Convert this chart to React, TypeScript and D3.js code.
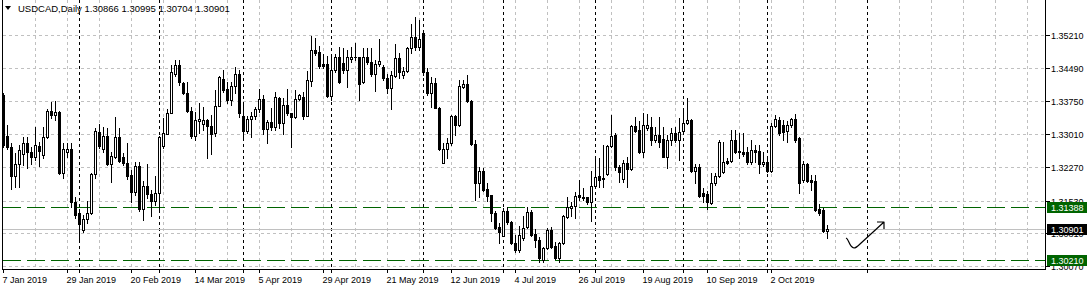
import React from "react";
import * as d3 from "d3";

// ---- Data (USDCAD daily) ----
const OPEN = [
  1.3388, 1.3297, 1.3272, 1.3209, 1.3234, 1.3256, 1.3282, 1.3262, 1.3251, 1.3275,
  1.3255, 1.3294, 1.3352, 1.3344, 1.3351, 1.3215, 1.3261, 1.3268, 1.3150, 1.3125,
  1.3088, 1.3112, 1.3125, 1.3212, 1.3305, 1.3267, 1.3298, 1.3234, 1.3251, 1.3294,
  1.3251, 1.3236, 1.3210, 1.3172, 1.3230, 1.3134, 1.3186, 1.3167, 1.3153, 1.3169,
  1.3275, 1.3301, 1.3347, 1.3434, 1.3455, 1.3414, 1.3392, 1.3352, 1.3297, 1.3331,
  1.3323, 1.3333, 1.3319, 1.3303, 1.3364, 1.3424, 1.3402, 1.3377, 1.3408, 1.3434,
  1.3341, 1.3307, 1.3334, 1.3341, 1.3356, 1.3379, 1.3312, 1.3328, 1.3316, 1.3382,
  1.3325, 1.3366, 1.3347, 1.3339, 1.3379, 1.3384, 1.3342, 1.3420, 1.3488, 1.3483,
  1.3457, 1.3457, 1.3386, 1.3444, 1.3473, 1.3459, 1.3444, 1.3468, 1.3473, 1.3473,
  1.3418, 1.3473, 1.3461, 1.3434, 1.3457, 1.3450, 1.3427, 1.3403, 1.3431, 1.3470,
  1.3433, 1.3442, 1.3492, 1.3518, 1.3496, 1.3526, 1.3439, 1.3392, 1.3414, 1.3360,
  1.3236, 1.3267, 1.3281, 1.3341, 1.3321, 1.3405, 1.3412, 1.3375, 1.3279, 1.3192,
  1.3220, 1.3179, 1.3166, 1.3125, 1.3095, 1.3075, 1.3131, 1.3105, 1.3058, 1.3043,
  1.3069, 1.3095, 1.3127, 1.3078, 1.3066, 1.3021, 1.3047, 1.3088, 1.3052, 1.3025,
  1.3058, 1.3116, 1.3136, 1.3141, 1.3166, 1.3162, 1.3161, 1.3150, 1.3186, 1.3208,
  1.3203, 1.3212, 1.3275, 1.3299, 1.3227, 1.3201, 1.3236, 1.3223, 1.3319, 1.3310,
  1.3262, 1.3314, 1.3318, 1.3287, 1.3299, 1.3291, 1.3251, 1.3287, 1.3303, 1.3287,
  1.3307, 1.3325, 1.3333, 1.3220, 1.3228, 1.3169, 1.3168, 1.3147, 1.3192, 1.3208,
  1.3217, 1.3241, 1.3241, 1.3288, 1.3264, 1.3262, 1.3262, 1.3239, 1.3266, 1.3264,
  1.3234, 1.3239, 1.3220, 1.3320, 1.3333, 1.3321, 1.3307, 1.3321, 1.3335, 1.3292,
  1.3199, 1.3235, 1.3199, 1.3197, 1.3134, 1.3132, 1.30866,
];
const HIGH = [
  1.3393, 1.3321, 1.3281, 1.3259, 1.3277, 1.3295, 1.3295, 1.3272, 1.3318, 1.3284,
  1.3316, 1.3357, 1.3373, 1.3375, 1.3352, 1.3281, 1.3281, 1.3281, 1.3162, 1.3135,
  1.3121, 1.3152, 1.3214, 1.3315, 1.3324, 1.3318, 1.3314, 1.3262, 1.3339, 1.3314,
  1.3259, 1.3281, 1.3221, 1.3240, 1.3240, 1.3197, 1.3235, 1.3177, 1.3208, 1.3297,
  1.3336, 1.3358, 1.3455, 1.3466, 1.3466, 1.3417, 1.3418, 1.3362, 1.3351, 1.3370,
  1.3362, 1.3335, 1.3344, 1.3399, 1.3431, 1.3444, 1.3416, 1.3418, 1.3450, 1.3444,
  1.3371, 1.3341, 1.3351, 1.3362, 1.3402, 1.3388, 1.3333, 1.3359, 1.3394, 1.3384,
  1.3381, 1.3402, 1.3349, 1.3399, 1.3390, 1.3394, 1.3442, 1.3520, 1.3516, 1.3498,
  1.3479, 1.3476, 1.3477, 1.3479, 1.3494, 1.3492, 1.3488, 1.3494, 1.3503, 1.3473,
  1.3493, 1.3492, 1.3492, 1.3465, 1.3513, 1.3455, 1.3434, 1.3442, 1.3501, 1.3481,
  1.3451, 1.3496, 1.3546, 1.3562, 1.3555, 1.3533, 1.3449, 1.3429, 1.3425, 1.3361,
  1.3281, 1.3292, 1.3344, 1.3344, 1.3422, 1.3422, 1.3433, 1.3377, 1.3287, 1.3229,
  1.3225, 1.3193, 1.3166, 1.3129, 1.3103, 1.3136, 1.3138, 1.3108, 1.3076, 1.3097,
  1.3118, 1.3139, 1.3132, 1.3090, 1.3072, 1.3051, 1.3093, 1.3094, 1.3062, 1.3062,
  1.3121, 1.3162, 1.3151, 1.3173, 1.3199, 1.3181, 1.3162, 1.3220, 1.3248, 1.3248,
  1.3277, 1.3277, 1.3344, 1.3303, 1.3232, 1.3244, 1.3251, 1.3321, 1.3340, 1.3330,
  1.3347, 1.3345, 1.3339, 1.3316, 1.3339, 1.3318, 1.3299, 1.3314, 1.3317, 1.3336,
  1.3355, 1.3381, 1.3335, 1.3235, 1.3235, 1.3181, 1.3175, 1.3214, 1.3214, 1.3288,
  1.3284, 1.3248, 1.3310, 1.3310, 1.3303, 1.3303, 1.3273, 1.3288, 1.3277, 1.3277,
  1.3262, 1.3248, 1.3325, 1.3344, 1.3340, 1.3333, 1.3330, 1.3337, 1.3345, 1.3295,
  1.3241, 1.3237, 1.3210, 1.3210, 1.3145, 1.3137, 1.30995,
];
const LOW = [
  1.3273, 1.3268, 1.3180, 1.3183, 1.3183, 1.3232, 1.3225, 1.3234, 1.3244, 1.3230,
  1.3249, 1.3293, 1.3337, 1.3333, 1.3212, 1.3203, 1.3250, 1.3140, 1.3114, 1.3066,
  1.3084, 1.3103, 1.3123, 1.3204, 1.3270, 1.3262, 1.3232, 1.3195, 1.3248, 1.3239,
  1.3232, 1.3201, 1.3149, 1.3166, 1.3130, 1.3110, 1.3159, 1.3118, 1.3143, 1.3128,
  1.3270, 1.3301, 1.3347, 1.3431, 1.3411, 1.3390, 1.3350, 1.3293, 1.3288, 1.3303,
  1.3310, 1.3249, 1.3256, 1.3297, 1.3364, 1.3395, 1.3370, 1.3367, 1.3393, 1.3340,
  1.3295, 1.3304, 1.3295, 1.3334, 1.3350, 1.3301, 1.3282, 1.3310, 1.3310, 1.3315,
  1.3301, 1.3344, 1.3273, 1.3337, 1.3377, 1.3334, 1.3341, 1.3409, 1.3477, 1.3449,
  1.3448, 1.3384, 1.3377, 1.3439, 1.3415, 1.3437, 1.3407, 1.3462, 1.3466, 1.3377,
  1.3415, 1.3457, 1.3431, 1.3398, 1.3453, 1.3422, 1.3393, 1.3356, 1.3428, 1.3425,
  1.3426, 1.3439, 1.3481, 1.3488, 1.3488, 1.3433, 1.3388, 1.3362, 1.3359, 1.3266,
  1.3236, 1.3249, 1.3277, 1.3299, 1.3319, 1.3404, 1.3373, 1.3277, 1.3155, 1.3162,
  1.3175, 1.3153, 1.3107, 1.3089, 1.3058, 1.3074, 1.3101, 1.3057, 1.3038, 1.3039,
  1.3066, 1.3092, 1.3074, 1.3049, 1.3016, 1.3017, 1.3045, 1.3048, 1.3023, 1.3016,
  1.3057, 1.3115, 1.3118, 1.3114, 1.3155, 1.3155, 1.3146, 1.3107, 1.3186, 1.3184,
  1.3184, 1.3210, 1.3273, 1.3221, 1.3195, 1.3195, 1.3184, 1.3221, 1.3306, 1.3259,
  1.3251, 1.3310, 1.3277, 1.3284, 1.3273, 1.3250, 1.3225, 1.3277, 1.3284, 1.3244,
  1.3306, 1.3323, 1.3217, 1.3192, 1.3161, 1.3151, 1.3135, 1.3146, 1.3188, 1.3206,
  1.3215, 1.3235, 1.3239, 1.3259, 1.3248, 1.3253, 1.3235, 1.3235, 1.3239, 1.3214,
  1.3230, 1.3217, 1.3217, 1.3317, 1.3299, 1.3288, 1.3284, 1.3317, 1.3284, 1.3169,
  1.3195, 1.3195, 1.3177, 1.3130, 1.3121, 1.3084, 1.30704,
];
const CLOSE = [
  1.3277, 1.3273, 1.3209, 1.3234, 1.3266, 1.3282, 1.3262, 1.3251, 1.3277, 1.3264,
  1.3294, 1.3353, 1.3344, 1.3351, 1.3215, 1.3268, 1.3268, 1.3149, 1.3121, 1.3101,
  1.3112, 1.3126, 1.3213, 1.3308, 1.3275, 1.3298, 1.3234, 1.3253, 1.3294, 1.3242,
  1.3236, 1.3208, 1.3172, 1.3230, 1.3134, 1.3186, 1.3167, 1.3153, 1.3169, 1.3295,
  1.3303, 1.3347, 1.3440, 1.3455, 1.3418, 1.3392, 1.3352, 1.3297, 1.3333, 1.3334,
  1.3333, 1.3320, 1.3301, 1.3364, 1.3428, 1.3399, 1.3377, 1.3408, 1.3434, 1.3349,
  1.3307, 1.3334, 1.3341, 1.3356, 1.3379, 1.3312, 1.3328, 1.3316, 1.3384, 1.3325,
  1.3366, 1.3347, 1.3339, 1.3379, 1.3388, 1.3342, 1.3422, 1.3488, 1.3482, 1.3453,
  1.3453, 1.3386, 1.3444, 1.3472, 1.3418, 1.3444, 1.3472, 1.3473, 1.3472, 1.3412,
  1.3473, 1.3461, 1.3434, 1.3457, 1.3464, 1.3425, 1.3403, 1.3433, 1.3470, 1.3440,
  1.3442, 1.3493, 1.3517, 1.3496, 1.3513, 1.3439, 1.3392, 1.3414, 1.3360, 1.3267,
  1.3267, 1.3281, 1.3341, 1.3321, 1.3408, 1.3412, 1.3374, 1.3279, 1.3192, 1.3220,
  1.3177, 1.3164, 1.3125, 1.3093, 1.3084, 1.3130, 1.3105, 1.3058, 1.3043, 1.3076,
  1.3093, 1.3127, 1.3076, 1.3066, 1.3025, 1.3047, 1.3088, 1.3051, 1.3025, 1.3058,
  1.3118, 1.3138, 1.3141, 1.3163, 1.3162, 1.3158, 1.3150, 1.3186, 1.3206, 1.3200,
  1.3201, 1.3275, 1.3297, 1.3227, 1.3216, 1.3236, 1.3223, 1.3319, 1.3309, 1.3262,
  1.3321, 1.3321, 1.3287, 1.3299, 1.3283, 1.3251, 1.3287, 1.3303, 1.3287, 1.3305,
  1.3325, 1.3333, 1.3220, 1.3228, 1.3164, 1.3164, 1.3150, 1.3192, 1.3208, 1.3283,
  1.3239, 1.3237, 1.3288, 1.3262, 1.3261, 1.3257, 1.3239, 1.3266, 1.3262, 1.3235,
  1.3239, 1.3220, 1.3320, 1.3335, 1.3303, 1.3305, 1.3321, 1.3335, 1.3287, 1.3193,
  1.3235, 1.3197, 1.3195, 1.3132, 1.3125, 1.3086, 1.30901,
];

const TICK_LABELS = [
  "7 Jan 2019", "29 Jan 2019", "20 Feb 2019", "14 Mar 2019", "5 Apr 2019",
  "29 Apr 2019", "21 May 2019", "12 Jun 2019", "4 Jul 2019", "26 Jul 2019",
  "19 Aug 2019", "10 Sep 2019", "2 Oct 2019",
];
const TICK_BARS = [0, 16, 32, 48, 64, 80, 96, 112, 128, 144, 160, 176, 192];
// month starts (Feb ... Oct on real bars, Nov 1 in the empty future area)
const MONTH_START_BARS = [19, 39, 60, 82, 105, 125, 148, 170, 191, 216];
const PRICE_TICKS = [1.3521, 1.3449, 1.3375, 1.3301, 1.3227, 1.3153, 1.3081, 1.3007];
const LEVELS = [1.31388, 1.3021];
const BID = 1.30901;
const SYMBOL = "USDCAD,Daily";

const W = 1091;
const H = 290;
const RIGHT = 1045; // plot right border column
const BOTTOM = 269; // plot bottom border row
const LEFT = 2;

export default function App() {
  const xs = d3.scaleLinear().domain([0, 1]).range([3.5, 7.5]);
  const ys = d3.scaleLinear().domain([1.3007, 1.3521]).range([266.3, 35.3]);
  const py = (v: number) => Math.round(ys(v));
  const fmt = d3.format(".5f");
  const font = "'Liberation Sans', Arial, sans-serif";

  const maxGridBar = Math.floor((RIGHT - 4) / 4);
  const vGrid = d3.range(8, maxGridBar + 1, 8).filter((b) => !MONTH_START_BARS.includes(b));

  const candles = OPEN.map((o, i) => {
    const h = HIGH[i], l = LOW[i], c = CLOSE[i];
    const x = xs(i);
    const yo = py(o), yc = py(c), yh = py(h), yl = py(l);
    const top = Math.min(yo, yc), bot = Math.max(yo, yc);
    const bull = c >= o;
    return (
      <g key={i}>
        <line x1={x} x2={x} y1={yh} y2={yl + 1} stroke="#000" strokeWidth={1} />
        {bot - top < 1 ? (
          <line x1={x - 1.5} x2={x + 1.5} y1={top + 0.5} y2={top + 0.5} stroke="#000" />
        ) : (
          <rect x={x - 1} y={top + 0.5} width={2} height={bot - top}
            fill={bull ? "#fff" : "#000"} stroke="#000" strokeWidth={1} />
        )}
      </g>
    );
  });

  const green = "#006400";

  return (
    <div style={{ position: "absolute", left: 0, top: 0 }}>
      <svg width={W} height={H} viewBox={`0 0 ${W} ${H}`} style={{ display: "block" }}>
        <rect x={0} y={0} width={W} height={H} fill="#fff" />
        <g shapeRendering="crispEdges">
          {/* horizontal grid */}
          {PRICE_TICKS.map((v) => (
            <line key={"hg" + v} x1={LEFT + 1} x2={RIGHT} y1={py(v) + 0.5} y2={py(v) + 0.5}
              stroke="#c0c0c0" strokeDasharray="3,3" />
          ))}
          {/* vertical grid */}
          {vGrid.map((b) => (
            <line key={"vg" + b} x1={xs(b)} x2={xs(b)} y1={0} y2={BOTTOM}
              stroke="#c0c0c0" strokeDasharray="3,3" />
          ))}
          {/* period separators */}
          {MONTH_START_BARS.map((b) => (
            <line key={"ms" + b} x1={xs(b)} x2={xs(b)} y1={0} y2={BOTTOM}
              stroke="#000" strokeDasharray="3,3" />
          ))}
          {/* bid line */}
          <line x1={LEFT + 1} x2={RIGHT} y1={py(BID) + 0.5} y2={py(BID) + 0.5} stroke="#c0c0c0" />
          {/* horizontal levels */}
          {LEVELS.map((v) => (
            <line key={"lv" + v} x1={LEFT + 1} x2={RIGHT} y1={py(v) + 0.5} y2={py(v) + 0.5}
              stroke={green} strokeDasharray="18,6" />
          ))}
          {candles}
          {/* frame */}
          <line x1={LEFT + 0.5} x2={LEFT + 0.5} y1={0} y2={BOTTOM + 1} stroke="#000" />
          <line x1={LEFT} x2={RIGHT + 1} y1={BOTTOM + 0.5} y2={BOTTOM + 0.5} stroke="#000" />
          <line x1={RIGHT + 0.5} x2={RIGHT + 0.5} y1={0} y2={BOTTOM + 1} stroke="#000" />
          {/* price axis ticks */}
          {PRICE_TICKS.map((v) => (
            <line key={"pt" + v} x1={RIGHT + 1} x2={RIGHT + 5} y1={py(v) + 0.5} y2={py(v) + 0.5} stroke="#000" />
          ))}
          {/* time axis ticks */}
          {[...TICK_BARS, ...MONTH_START_BARS].map((b) => (
            <line key={"tt" + b} x1={xs(b)} x2={xs(b)} y1={BOTTOM} y2={BOTTOM + 4} stroke="#000" />
          ))}
        </g>
        {/* price labels */}
        {PRICE_TICKS.map((v) => (
          <text key={"pl" + v} x={1051} y={py(v) + 3.5} fontFamily={font} fontSize={9} fill="#000">
            {fmt(v)}
          </text>
        ))}
        {/* time labels */}
        {TICK_LABELS.map((t, k) => (
          <text key={"tl" + t} x={xs(TICK_BARS[k]) - 1} y={283} fontFamily={font} fontSize={9} fill="#000">
            {t}
          </text>
        ))}
        {/* level price boxes */}
        {LEVELS.map((v) => (
          <g key={"lb" + v}>
            <rect x={1047} y={py(v) - 5} width={40} height={11} fill={green} />
            <text x={1051} y={py(v) + 3.5} fontFamily={font} fontSize={9} fill="#fff">{fmt(v)}</text>
          </g>
        ))}
        <g>
          <rect x={1047} y={py(BID) - 5} width={40} height={11} fill="#000" />
          <text x={1051} y={py(BID) + 3.5} fontFamily={font} fontSize={9} fill="#fff">{fmt(BID)}</text>
        </g>
        {/* title */}
        <path d="M5,6 L11,6 L8,10 Z" fill="#000" />
        <text x={18} y={12} fontFamily={font} fontSize={9.5} fill="#000">
          {`${SYMBOL}  ${fmt(OPEN[OPEN.length - 1])} ${fmt(HIGH[HIGH.length - 1])} ${fmt(LOW[LOW.length - 1])} ${fmt(CLOSE[CLOSE.length - 1])}`}
        </text>
        {/* hand drawn arrow */}
        <path d="M846,238 C849,239 849,247 854,248 C856,248 858,246 860,244 L884,222 M877,222 L884,222 L884,229"
          fill="none" stroke="#000" strokeWidth={1.2} strokeLinejoin="round" />
      </svg>
    </div>
  );
}
